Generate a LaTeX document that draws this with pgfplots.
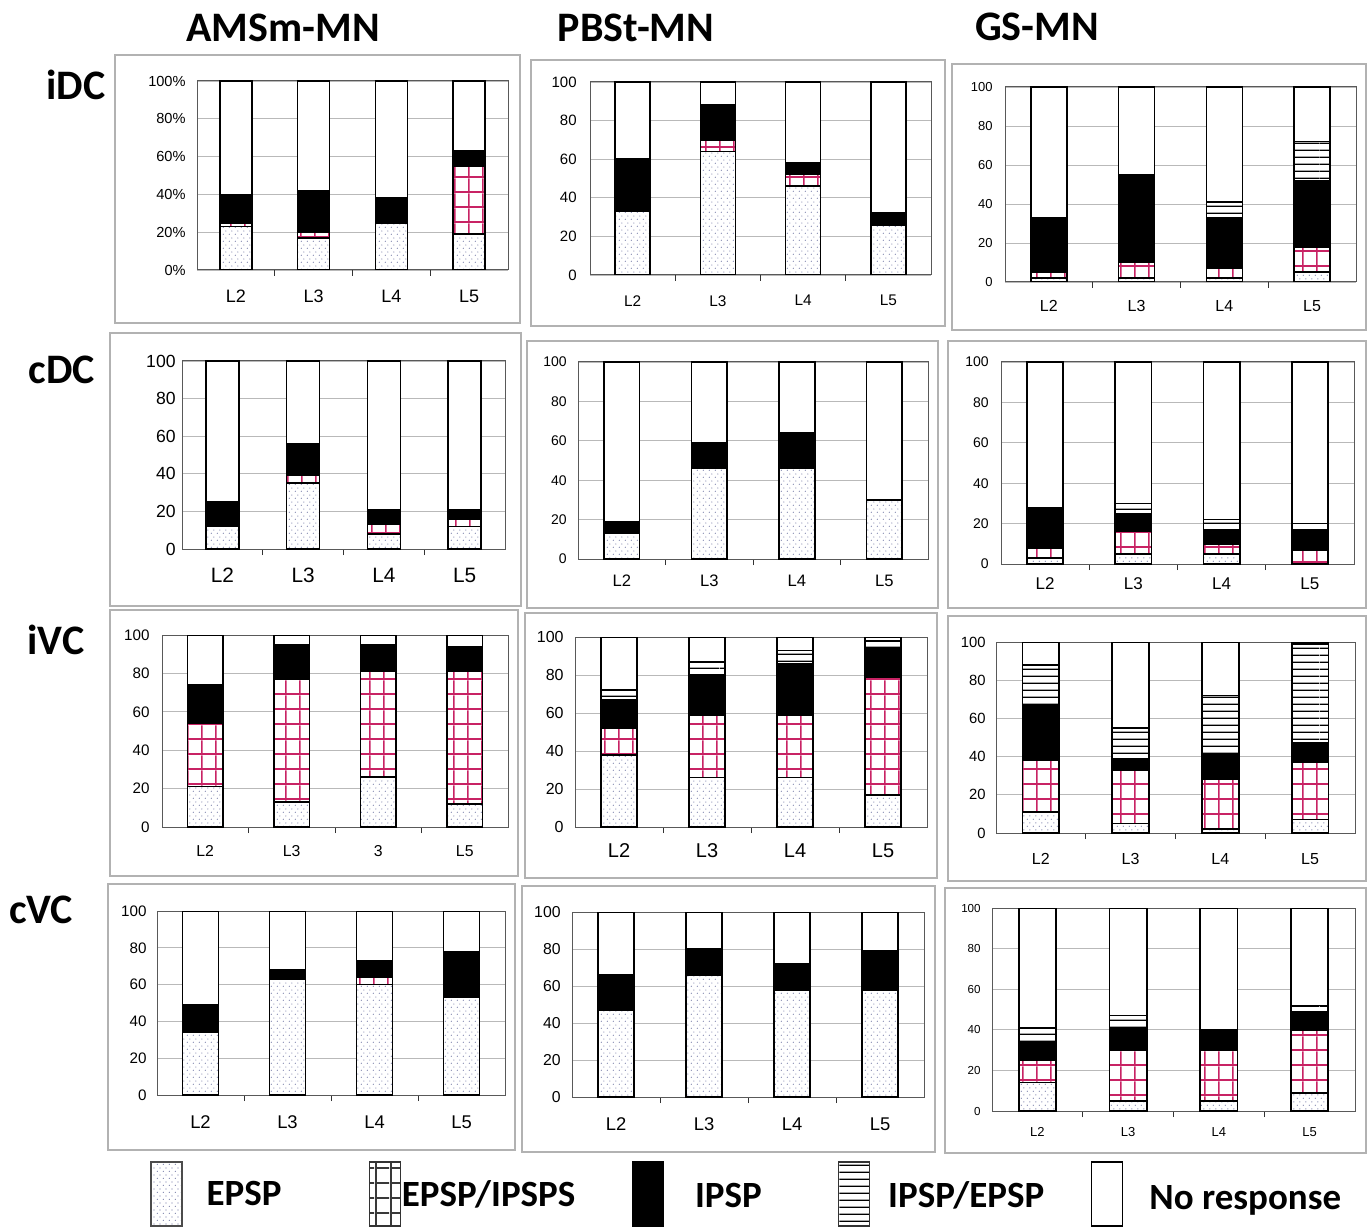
\documentclass[border=0pt]{standalone}
\usepackage{fontspec}
\setmainfont{Liberation Sans}
\newfontfamily\headfont{Carlito}
\usepackage{pgfplots}
\usepackage{pgfplotstable}
\pgfplotsset{compat=1.18}
\usetikzlibrary{patterns}

\definecolor{dotc}{RGB}{115,120,165}
\definecolor{gridpink}{RGB}{200,35,100}

% fill patterns for the response classes
\pgfdeclarepatternformonly{sparsedots}{\pgfqpoint{0pt}{0pt}}{\pgfqpoint{3pt}{3.4pt}}{\pgfqpoint{3pt}{3.4pt}}{%
  \pgfpathcircle{\pgfqpoint{0.75pt}{0.85pt}}{0.33pt}%
  \pgfpathcircle{\pgfqpoint{2.25pt}{2.55pt}}{0.33pt}%
  \pgfusepath{fill}}
\pgfdeclarepatternformonly{pinkgrid}{\pgfqpoint{0pt}{0pt}}{\pgfqpoint{7.2pt}{7.4pt}}{\pgfqpoint{7.2pt}{7.4pt}}{%
  \pgfpathrectangle{\pgfqpoint{0pt}{0pt}}{\pgfqpoint{7.2pt}{0.9pt}}%
  \pgfpathrectangle{\pgfqpoint{0pt}{0pt}}{\pgfqpoint{0.9pt}{7.4pt}}%
  \pgfusepath{fill}}
\pgfdeclarepatternformonly{hlines}{\pgfqpoint{0pt}{0pt}}{\pgfqpoint{60pt}{3.6pt}}{\pgfqpoint{60pt}{3.6pt}}{%
  \pgfpathrectangle{\pgfqpoint{0pt}{0pt}}{\pgfqpoint{60pt}{0.75pt}}%
  \pgfusepath{fill}}

% percentages per segment: EPSP, EPSP/IPSPS, IPSP, IPSP/EPSP, no response
\pgfplotstableread{
x e ei i ie n
0 23 2 15 0 60
1 17 3 22 0 58
2 25 0 13 0 62
3 19 36 8 0 37
}\tAi
\pgfplotstableread{
x e ei i ie n
0 33 0 27 0 40
1 64 6 18 0 12
2 46 6 6 0 42
3 26 0 6 0 68
}\tBi
\pgfplotstableread{
x e ei i ie n
0 2 3 28 0 67
1 2 8 45 0 45
2 2 5 26 8 59
3 5 13 34 20 28
}\tCi
\pgfplotstableread{
x e ei i ie n
0 12 0 13 0 75
1 35 4 17 0 44
2 8 5 8 0 79
3 12 4 5 0 79
}\tAii
\pgfplotstableread{
x e ei i ie n
0 13 0 6 0 81
1 46 0 13 0 41
2 46 0 18 0 36
3 30 0 0 0 70
}\tBii
\pgfplotstableread{
x e ei i ie n
0 3 5 20 0 72
1 5 11 9 5 70
2 5 5 7 5 78
3 0 7 10 3 80
}\tCii
\pgfplotstableread{
x e ei i ie n
0 21 33 20 0 26
1 13 64 18 0 5
2 26 55 14 0 5
3 12 69 13 0 6
}\tAiii
\pgfplotstableread{
x e ei i ie n
0 38 14 15 5 28
1 26 33 21 7 13
2 26 33 27 7 7
3 17 62 15 4 2
}\tBiii
\pgfplotstableread{
x e ei i ie n
0 11 27 29 21 12
1 5 28 6 16 45
2 2 26 13 31 28
3 7 30 10 52 1
}\tCiii
\pgfplotstableread{
x e ei i ie n
0 34 0 15 0 51
1 63 0 5 0 32
2 60 4 9 0 27
3 53 0 25 0 22
}\tAiv
\pgfplotstableread{
x e ei i ie n
0 47 0 19 0 34
1 66 0 14 0 20
2 58 0 14 0 28
3 58 0 21 0 21
}\tBiv
\pgfplotstableread{
x e ei i ie n
0 14 11 9 7 59
1 5 25 11 6 53
2 5 25 10 0 60
3 9 31 9 3 48
}\tCiv

\pgfplotsset{
  sEPSP/.style={draw=black, line width=0.8pt, preaction={fill=white}, pattern=sparsedots, pattern color=dotc},
  sEI/.style={draw=black, line width=0.8pt, preaction={fill=white}, pattern=pinkgrid, pattern color=gridpink},
  sIPSP/.style={draw=black, line width=0.8pt, fill=black},
  sIE/.style={draw=black, line width=0.8pt, preaction={fill=white}, pattern=hlines, pattern color=black},
  sNR/.style={draw=black, line width=0.8pt, fill=white},
  panel/.style={
    scale only axis, anchor=south west,
    ybar stacked, bar width=0.41,
    xmin=-0.5, xmax=3.5, ymin=0, ymax=100,
    xtick={0,1,2,3}, xticklabels={L2,L3,L4,L5},
    minor xtick={0.5,1.5,2.5},
    ytick={0,20,40,60,80,100},
    xtick pos=bottom, ytick pos=left,
    major tick length=0pt, minor tick length=3pt, tick align=outside,
    tick style={black!80, line width=0.5pt},
    ymajorgrids, grid style={gray!55, line width=0.4pt},
    axis line style={gray!70!black, line width=0.5pt},
    /pgf/number format/assume math mode=true,
    xticklabel style={anchor=north, inner sep=0pt},
    yticklabel style={anchor=east, inner sep=0pt},
  },
  labs/.style n args={4}{
    yticklabel style={font=\fontsize{#1}{#1}\selectfont, xshift=-#4pt},
    xticklabel style={font=\fontsize{#2}{#2}\selectfont, yshift=-#3pt}},
}

\newcommand{\stackbars}[1]{%
  \addplot[sEPSP] table[x=x,y=e]{#1};
  \addplot[sEI] table[x=x,y=ei]{#1};
  \addplot[sIPSP] table[x=x,y=i]{#1};
  \addplot[sIE] table[x=x,y=ie]{#1};
  \addplot[sNR] table[x=x,y=n]{#1};
}

\begin{document}
\begin{tikzpicture}
\useasboundingbox (0,0) rectangle (684.5pt,-614.5pt);
\fill[white] (0,0) rectangle (684.5pt,-614.5pt);

% panel frames
\begin{scope}[draw=gray!60, line width=0.8pt]
\draw (57.5pt,-27.5pt) rectangle (260pt,-161.5pt);
\draw (265.5pt,-30pt) rectangle (472.5pt,-163pt);
\draw (476pt,-32pt) rectangle (683pt,-165pt);
\draw (55pt,-166.5pt) rectangle (260.5pt,-303pt);
\draw (263.5pt,-170.5pt) rectangle (469pt,-304pt);
\draw (474pt,-170.5pt) rectangle (683pt,-304pt);
\draw (55pt,-305pt) rectangle (259pt,-438pt);
\draw (262.5pt,-306.5pt) rectangle (468.5pt,-439pt);
\draw (474pt,-308pt) rectangle (683pt,-440.5pt);
\draw (54pt,-442pt) rectangle (257.5pt,-575pt);
\draw (261pt,-443pt) rectangle (467.5pt,-576pt);
\draw (472.5pt,-444pt) rectangle (683pt,-576.5pt);
\end{scope}

% row iDC
\begin{axis}[panel, at={(98.5pt,-135pt)}, width=155.5pt, height=94.5pt, labs={7.3}{9}{10}{5.5},
  yticklabels={0\%,20\%,40\%,60\%,80\%,100\%}]
\stackbars{\tAi}
\end{axis}
\begin{axis}[panel, at={(295pt,-137.5pt)}, width=170.5pt, height=96.5pt, labs={7.5}{7.7}{10}{6.5}]
\stackbars{\tBi}
\end{axis}
\begin{axis}[panel, at={(502.5pt,-141pt)}, width=175.5pt, height=97.5pt, labs={6.5}{8}{9}{6}]
\stackbars{\tCi}
\end{axis}

% row cDC
\begin{axis}[panel, at={(91pt,-274.5pt)}, width=161.5pt, height=94pt, labs={8.8}{10.4}{9.5}{3}]
\stackbars{\tAii}
\end{axis}
\begin{axis}[panel, at={(289pt,-279.5pt)}, width=175pt, height=98.5pt, labs={7}{8.3}{8}{5.5}]
\stackbars{\tBii}
\end{axis}
\begin{axis}[panel, at={(500.5pt,-282pt)}, width=176.5pt, height=101pt, labs={7}{8.5}{6.5}{6}]
\stackbars{\tCii}
\end{axis}

% row iVC
\begin{axis}[panel, at={(81pt,-413.5pt)}, width=173pt, height=96pt, labs={7.6}{7.9}{9}{6},
  xticklabels={L2,L3,3,L5}]
\stackbars{\tAiii}
\end{axis}
\begin{axis}[panel, at={(287.5pt,-413.5pt)}, width=176pt, height=95pt, labs={8}{10}{8}{5.5}]
\stackbars{\tBiii}
\end{axis}
\begin{axis}[panel, at={(498pt,-416.5pt)}, width=179.5pt, height=95.5pt, labs={7.4}{8}{10}{5}]
\stackbars{\tCiii}
\end{axis}

% row cVC
\begin{axis}[panel, at={(78.5pt,-547.5pt)}, width=174pt, height=92pt, labs={7.6}{9.2}{10}{5}]
\stackbars{\tAiv}
\end{axis}
\begin{axis}[panel, at={(286pt,-548.5pt)}, width=176pt, height=92.5pt, labs={7.9}{9.2}{10}{5.5}]
\stackbars{\tBiv}
\end{axis}
\begin{axis}[panel, at={(496pt,-555.5pt)}, width=181.5pt, height=101.5pt, labs={5.8}{6.5}{8}{5.5}]
\stackbars{\tCiv}
\end{axis}

% column and row titles
\begin{scope}[every node/.style={inner sep=0pt, font=\headfont\bfseries\fontsize{21}{24}\selectfont}]
\node at (141.5pt,-14pt) {AMSm-MN};
\node at (318pt,-14pt) {PBSt-MN};
\node at (518.5pt,-13.5pt) {GS-MN};
\node at (38pt,-42.5pt) {iDC};
\node at (31pt,-185pt) {cDC};
\node at (28pt,-320pt) {iVC};
\node at (20.5pt,-455pt) {cVC};
\end{scope}

% legend
\begin{axis}[hide axis, scale only axis, width=15.5pt, height=32pt,
  at={(75pt,-613pt)}, anchor=south west, xmin=0, xmax=1, ymin=0, ymax=1,
  legend columns=-1,
  legend style={at={(0,0.5)}, anchor=west, draw=none, fill=none,
    inner sep=0pt, column sep=0pt, nodes={inner sep=0pt},
    font=\headfont\bfseries\fontsize{18.5}{22}\selectfont},
  legend cell align=left]
\addlegendimage{legend image code/.code={\draw[gray!60!black, line width=0.6pt, preaction={fill=white}, pattern=sparsedots, pattern color=dotc] (0pt,-16pt) rectangle (15.5pt,16pt);}}
\addlegendentry{\makebox[93pt][l]{\hspace{12pt}\raisebox{-1pt}{EPSP}}}
\addlegendimage{legend image code/.code={\draw[black!80, line width=0.6pt, preaction={fill=white}, pattern=pinkgrid, pattern color=gray!45!black] (0pt,-16pt) rectangle (15.5pt,16pt);}}
\addlegendentry{\makebox[115.5pt][l]{\hspace{0.5pt}\raisebox{-1pt}{EPSP/IPSPS}}}
\addlegendimage{legend image code/.code={\draw[black, line width=0.6pt, fill=black] (0pt,-16pt) rectangle (15.5pt,16pt);}}
\addlegendentry{\makebox[87pt][l]{\hspace{15.5pt}\raisebox{-2.5pt}{IPSP}}}
\addlegendimage{legend image code/.code={\draw[black!80, line width=0.6pt, preaction={fill=white}, pattern=hlines, pattern color=black] (0pt,-16pt) rectangle (15.5pt,16pt);}}
\addlegendentry{\makebox[110.5pt][l]{\hspace{9pt}\raisebox{-2.5pt}{IPSP/EPSP}}}
\addlegendimage{legend image code/.code={\draw[black, line width=0.6pt, fill=white] (0pt,-16pt) rectangle (15.5pt,16pt);}}
\addlegendentry{\hspace{13pt}\raisebox{-5pt}{No response}}
\end{axis}
\end{tikzpicture}
\end{document}
